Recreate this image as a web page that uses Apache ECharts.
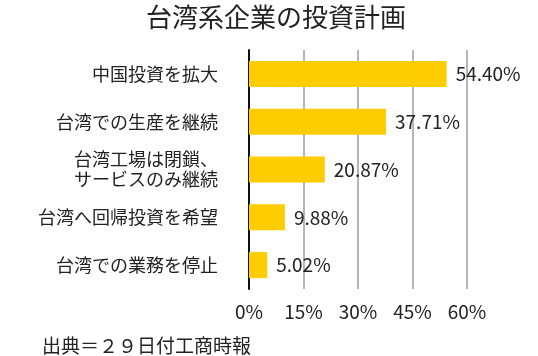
<!DOCTYPE html>
<html>
<head>
<meta charset="utf-8">
<script src="https://cdn.jsdelivr.net/npm/echarts@6/dist/echarts.min.js"></script>
<style>html,body{margin:0;padding:0;background:#fff}#c{width:538px;height:356px}</style>
</head>
<body>
<div id="c"></div>
<script>
var categories = ['中国投資を拡大', '台湾での生産を継続', '台湾工場は閉鎖、\nサービスのみ継続', '台湾へ回帰投資を希望', '台湾での業務を停止'];
var values = [54.40, 37.71, 20.87, 9.88, 5.02];
var titleText = '台湾系企業の投資計画';
var sourceText = '出典＝２９日付工商時報';

var FONT = '"Noto Sans CJK JP", "Noto Sans", sans-serif';
var chart = echarts.init(document.getElementById('c'), null, {renderer: 'canvas'});
chart.setOption({
  animation: false,
  backgroundColor: '#fff',
  textStyle: {fontFamily: FONT},
  title: [{
    text: titleText,
    left: 271, top: -1, textAlign: 'center',
    textStyle: {fontSize: 26, fontWeight: 'normal', color: '#222', fontFamily: FONT}
  }, {
    text: sourceText,
    left: 37, top: 331,
    textStyle: {fontSize: 19, fontWeight: 'normal', color: '#222', fontFamily: FONT}
  }],
  grid: {left: 249, right: 71, top: 50, bottom: 67, containLabel: false},
  xAxis: {
    type: 'value', min: 0, max: 60, interval: 15,
    axisLine: {show: false}, axisTick: {show: false},
    splitLine: {show: true, lineStyle: {color: '#b5b5b5', width: 2}},
    axisLabel: {formatter: '{value}%', fontSize: 19, color: '#222', margin: 13, fontFamily: FONT}
  },
  yAxis: {
    type: 'category', data: categories, inverse: true,
    axisLine: {show: true, lineStyle: {color: '#111', width: 2}},
    axisTick: {show: false},
    axisLabel: {fontSize: 18, lineHeight: 20, color: '#222', margin: 31, fontFamily: FONT}
  },
  series: [{
    type: 'bar', data: values, barWidth: 26,
    itemStyle: {color: '#FFCC00'},
    label: {
      show: true, position: 'right', distance: 9,
      fontSize: 19, color: '#222', fontFamily: FONT,
      formatter: function (p) { return p.value.toFixed(2) + '%'; }
    }
  }]
});
</script>
</body>
</html>
